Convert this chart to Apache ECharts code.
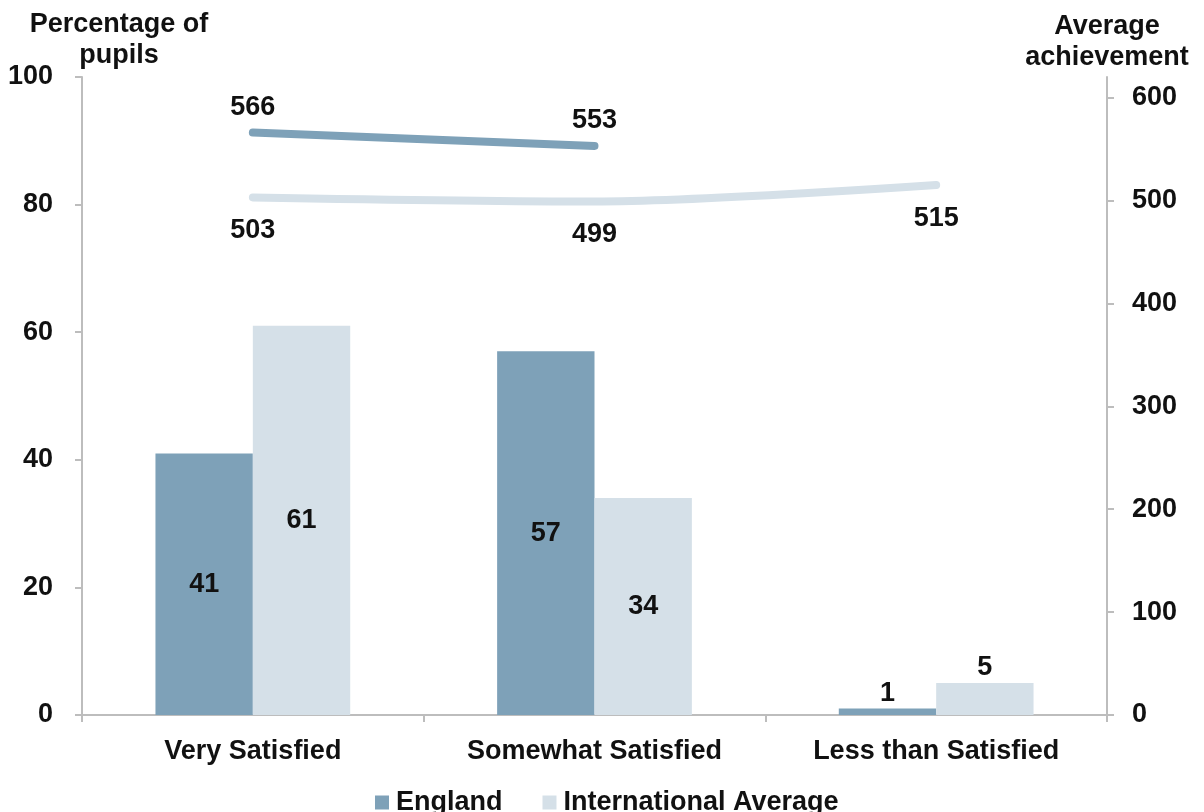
<!DOCTYPE html>
<html>
<head>
<meta charset="utf-8">
<title>Satisfaction and achievement</title>
<script src="https://cdn.jsdelivr.net/npm/echarts@6/dist/echarts.min.js"></script>
<style>
  html, body { margin: 0; padding: 0; background: #fff; }
  #chart { width: 1204px; height: 812px; }
</style>
</head>
<body>
<div id="chart"></div>
<script>
// categories and values
const categories = ['Very Satisfied', 'Somewhat Satisfied', 'Less than Satisfied'];
const englandPct = [41, 57, 1];
const intlPct = [61, 34, 5];
const englandScore = [566, 553, '-'];
const intlScore = [503, 499, 515];
const pctTicks = [0, 20, 40, 60, 80, 100];
const scoreTicks = [0, 100, 200, 300, 400, 500, 600];

const FONT = '"Liberation Sans", Arial, sans-serif';
const ENG = '#7ea1b8';
const INTL = '#d5e0e8';
const AXIS = '#bdbdbd';

const txt = { fontFamily: FONT, fontWeight: 'bold', fontSize: 27, color: '#111' };

const chart = echarts.init(document.getElementById('chart'));

// small bars get their label on top, the rest in the middle
const barData = (vals) => vals.map(v => v < 10
  ? { value: v, label: { position: 'top', distance: 2 } }
  : v);

const option = {
  animation: false,
  grid: { left: 82, right: 97, top: 77, bottom: 97 },
  graphic: [
    {
      type: 'text', x: 119, y: 9,
      style: { text: 'Percentage of\npupils', textAlign: 'center', lineHeight: 31, fill: '#111', font: 'bold 27px ' + FONT }
    },
    {
      type: 'text', x: 1107, y: 11,
      style: { text: 'Average\nachievement', textAlign: 'center', lineHeight: 31, fill: '#111', font: 'bold 27px ' + FONT }
    }
  ],
  legend: {
    data: ['England', 'International Average'],
    left: 370,
    top: 784,
    icon: 'rect',
    itemWidth: 14,
    itemHeight: 14,
    itemGap: 40,
    textStyle: Object.assign({}, txt, { padding: [0, 0, 0, 2] })
  },
  xAxis: {
    type: 'category',
    data: categories,
    axisLine: { lineStyle: { color: AXIS, width: 2 } },
    axisTick: { show: true, length: 7, lineStyle: { color: AXIS, width: 2 } },
    axisLabel: Object.assign({}, txt, { margin: 23 })
  },
  yAxis: [
    {
      type: 'value',
      min: 0, max: 100, interval: 20,
      splitLine: { show: false },
      axisLine: { show: true, lineStyle: { color: AXIS, width: 2 } },
      axisTick: { show: true, length: 7, lineStyle: { color: AXIS, width: 2 } },
      axisLabel: Object.assign({}, txt, { margin: 29, customValues: pctTicks })
    },
    {
      type: 'value',
      min: 0, max: 620, interval: 100,
      splitLine: { show: false },
      axisLine: { show: true, lineStyle: { color: AXIS, width: 2 } },
      axisTick: { show: true, length: 7, lineStyle: { color: AXIS, width: 2 }, customValues: scoreTicks },
      axisLabel: Object.assign({}, txt, { margin: 25, customValues: scoreTicks })
    }
  ],
  series: [
    {
      name: 'England',
      type: 'bar',
      data: barData(englandPct),
      barGap: '0%',
      barCategoryGap: '43%',
      itemStyle: { color: ENG },
      label: Object.assign({ show: true, position: 'inside' }, txt)
    },
    {
      name: 'International Average',
      type: 'bar',
      data: barData(intlPct),
      itemStyle: { color: INTL },
      label: Object.assign({ show: true, position: 'inside' }, txt)
    },
    {
      name: 'England achievement',
      type: 'line',
      yAxisIndex: 1,
      data: englandScore,
      symbol: 'circle',
      symbolSize: 1,
      itemStyle: { color: ENG },
      lineStyle: { color: ENG, width: 8, cap: 'round' },
      label: Object.assign({ show: true, position: 'top', distance: 11 }, txt)
    },
    {
      name: 'International achievement',
      type: 'line',
      yAxisIndex: 1,
      data: intlScore,
      smooth: 0.3,
      symbol: 'circle',
      symbolSize: 1,
      itemStyle: { color: INTL },
      lineStyle: { color: INTL, width: 8, cap: 'round' },
      label: Object.assign({ show: true, position: 'bottom', distance: 19 }, txt)
    }
  ]
};

chart.setOption(option);
</script>
</body>
</html>
